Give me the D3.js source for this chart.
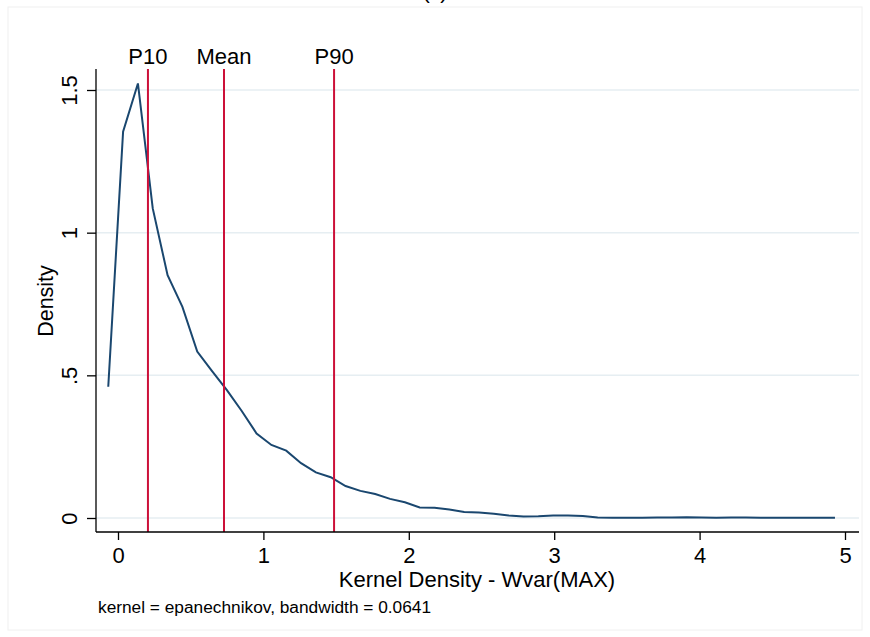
<!DOCTYPE html>
<html><head><meta charset="utf-8">
<script src="https://cdn.jsdelivr.net/npm/d3@7"></script>
<style>body{margin:0;background:#fff}svg{display:block}text{font-family:"Liberation Sans",Arial,sans-serif;fill:#000}</style>
</head><body><svg id="c" width="870" height="637"></svg>
<script>
const gridX = [-0.067,0.035,0.137,0.239,0.341,0.443,0.545,0.647,0.749,0.851,0.953,1.055,1.157,1.259,1.361,1.463,1.565,1.667,1.769,1.871,1.973,2.075,2.177,2.279,2.381,2.483,2.585,2.687,2.789,2.891,2.993,3.095,3.197,3.299,3.401,3.503,3.605,3.707,3.809,3.911,4.013,4.115,4.217,4.319,4.421,4.523,4.625,4.727,4.829,4.931];
const density = [0.460,1.354,1.523,1.085,0.851,0.740,0.583,0.515,0.448,0.375,0.296,0.256,0.236,0.192,0.160,0.143,0.112,0.095,0.084,0.067,0.055,0.037,0.036,0.030,0.021,0.019,0.015,0.009,0.005,0.006,0.009,0.009,0.007,0.002,0.001,0.001,0.001,0.002,0.002,0.003,0.002,0.001,0.002,0.002,0.001,0.001,0.001,0.001,0.001,0.001];
const refLabels = ["P10","Mean","P90"];
const refValues = [0.206,0.729,1.486];
const xTicks = [0,1,2,3,4,5];
const yTicks = [0,0.5,1,1.5];
const yTickLabels = ["0",".5","1","1.5"];

const svg = d3.select("#c");
const L=96, R=859, T=69, B=532;
const x = d3.scaleLinear().domain([0,5]).range([118,845]);
const y = d3.scaleLinear().domain([0,1.5]).range([518,90]);

svg.append("rect").attr("x",8).attr("y",7).attr("width",854).attr("height",623)
  .attr("fill","none").attr("stroke","#f0f0f0");
svg.append("text").attr("x",435).attr("y",-1).attr("text-anchor","middle").attr("font-size",21).text("(c)");

// grid
svg.append("g").selectAll("line").data(yTicks).join("line")
  .attr("x1",L).attr("x2",R).attr("y1",d=>y(d)).attr("y2",d=>y(d))
  .attr("stroke","#e6eef2").attr("stroke-width",1.5);

// curve
svg.append("path").datum(gridX.map((v,i)=>[v,density[i]]))
  .attr("d",d3.line().x(d=>x(d[0])).y(d=>y(d[1])))
  .attr("fill","none").attr("stroke","#1a476f").attr("stroke-width",2);

// ref lines
const rg = svg.append("g");
rg.selectAll("line").data(refValues).join("line")
  .attr("x1",d=>x(d)).attr("x2",d=>x(d)).attr("y1",T).attr("y2",B)
  .attr("stroke","#cc1039").attr("stroke-width",2);
rg.selectAll("text").data(refValues).join("text")
  .attr("x",d=>x(d)).attr("y",64).attr("text-anchor","middle").attr("font-size",22)
  .text((d,i)=>refLabels[i]);

// x axis
const xa = svg.append("g").attr("transform",`translate(0,${B})`)
  .call(d3.axisBottom(x).tickValues(xTicks).tickSize(8).tickPadding(7).tickFormat(d3.format("d")));
xa.select(".domain").attr("d",`M${L},0H${R}`).attr("stroke","#000").attr("stroke-width",1.3);
xa.selectAll(".tick line").attr("stroke","#000").attr("stroke-width",1.3);
xa.selectAll(".tick text").attr("font-size",22).attr("font-family","Liberation Sans, Arial, sans-serif").attr("fill","#000");

// y axis
const ya = svg.append("g").attr("transform",`translate(${L},0)`)
  .call(d3.axisLeft(y).tickValues(yTicks).tickSize(9).tickFormat((d,i)=>yTickLabels[i]));
ya.select(".domain").attr("d",`M0,${T}V${B}`).attr("stroke","#000").attr("stroke-width",1.3);
ya.selectAll(".tick line").attr("stroke","#000").attr("stroke-width",1.3);
ya.selectAll(".tick text").attr("font-size",22).attr("font-family","Liberation Sans, Arial, sans-serif").attr("fill","#000")
  .attr("x",0).attr("dy",0).attr("text-anchor","middle")
  .attr("transform","translate(-19,0) rotate(-90)");

svg.append("text").attr("x",477).attr("y",587).attr("text-anchor","middle").attr("font-size",22).text("Kernel Density - Wvar(MAX)");
svg.append("text").attr("transform","translate(53,301) rotate(-90)").attr("text-anchor","middle").attr("font-size",21.5).text("Density");
svg.append("text").attr("x",98).attr("y",613).attr("font-size",17.3).text("kernel = epanechnikov, bandwidth = 0.0641");
</script></body></html>
